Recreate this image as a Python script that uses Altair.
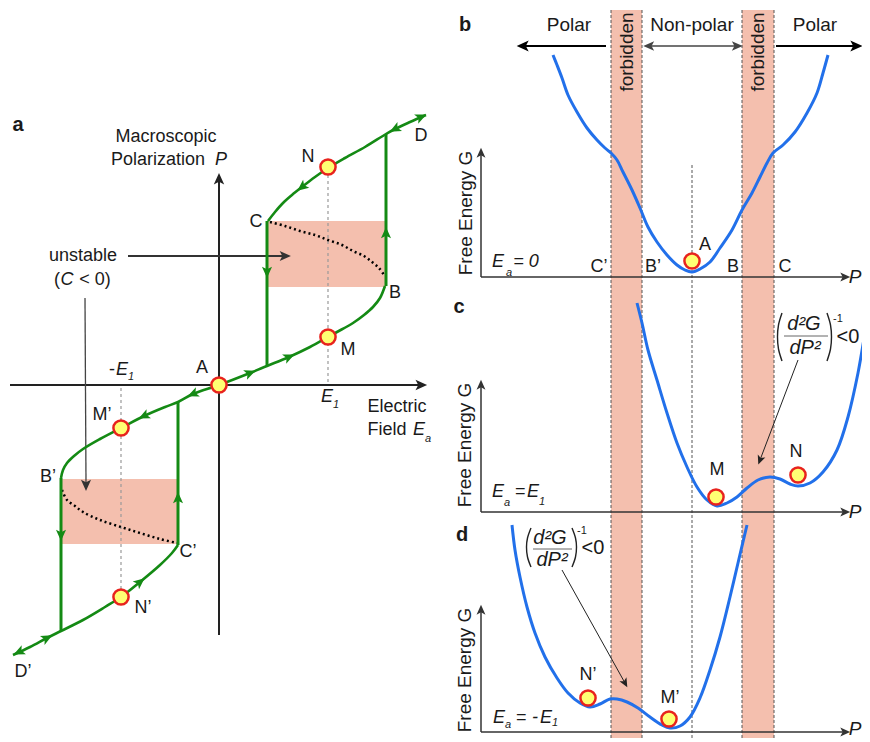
import altair as alt
import pandas as pd

# ---------------- values (picture pixel coordinates, y grows downward) ----------------
# Panel a: hysteresis loop P(Ea)
loop_lower = [(13, 655), (30, 647), (47, 638), (61, 631), (83, 620), (105, 607), (121, 597), (140, 582),
              (160, 565), (172, 553), (178, 545)]
loop_middle = [(61, 478), (63, 470), (67, 463), (74, 456), (83, 449), (100, 439), (121, 428), (144, 416),
               (165, 407), (178, 402), (193, 394), (219, 385), (250, 373), (267, 366), (289, 357), (310, 347),
               (328, 337), (337, 332), (353, 323), (364, 315), (373, 307), (380, 298), (385, 286)]
loop_upper = [(268, 221), (275, 212), (283, 203), (292, 195), (302, 187), (315, 177), (328, 168), (345, 158),
              (365, 147), (386, 134), (395, 129), (410, 122), (426, 115)]
loop_jumps = [(386, 286, 386, 134), (267, 221, 267, 366), (61, 478, 61, 631), (178, 545, 178, 402)]
unstable_upper = [(270, 222), (285, 226), (300, 231), (315, 235), (328, 240), (342, 245), (353, 251),
                  (364, 256), (372, 262), (379, 268), (384, 275)]
unstable_lower = [(62, 490), (67, 500), (75, 506), (83, 512), (100, 520), (121, 527), (140, 533), (160, 539),
                  (177, 543)]
unstable_boxes = [(268, 221, 386, 287), (61, 479, 178, 544)]
guide_lines_a = [(328, 175, 328, 383), (121, 388, 121, 590)]
axes_a = [(10, 385, 420, 385), (219, 635, 219, 180)]
axes_a_heads = [(421, 385, 90), (219, 179, 0)]
note_lines_a = [(128, 256, 284, 256)]
note_line_thin_a = [(85, 298, 86, 484)]
note_heads_a = [(285, 256, 90), (86, 485, 180)]
states_a = [(219, 385), (328, 167), (328, 337), (121, 428), (121, 597)]
flow_heads = [(302, 187, 232), (395, 129, 243), (421, 117, 66), (250, 373, 68), (289, 357, 66),
              (193, 394, 247), (144, 416, 244), (140, 582, 51), (47, 638, 63), (19, 652, 245),
              (267, 272, 180), (386, 233, 0), (61, 535, 180), (178, 498, 0)]

# Panels b, c, d: free-energy landscapes G(P)
forbidden_bands = [(611, 10, 642, 742), (742, 10, 774, 742)]
band_edges = [(611, 10, 611, 742), (642, 10, 642, 742), (742, 10, 742, 742), (774, 10, 774, 742),
              (692, 165, 692, 742)]
curve_b = [(553, 55), (557, 65), (562, 78), (568, 95), (577, 112), (587, 128), (597, 140), (605, 148),
           (611, 153), (617, 160), (623, 172), (632, 190), (640, 208), (648, 227), (657, 242), (667, 255),
           (677, 265), (685, 270), (692, 272), (700, 269), (710, 262), (720, 248), (732, 230), (742, 210),
           (752, 193), (760, 177), (767, 163), (773, 153), (783, 145), (795, 132), (807, 113), (817, 93),
           (823, 73), (828, 55)]
curve_c = [(637, 303), (642, 323), (648, 350), (657, 380), (667, 413), (677, 443), (687, 467), (697, 487),
           (707, 500), (717, 506), (727, 503), (737, 497), (747, 488), (758, 480), (770, 477), (780, 479),
           (790, 484), (798, 486), (810, 483), (823, 472), (837, 450), (848, 417), (858, 373), (865, 333),
           (870, 307)]
curve_d = [(512, 525), (515, 550), (520, 577), (527, 607), (535, 633), (545, 657), (557, 678), (568, 693),
           (580, 703), (590, 707), (600, 704), (610, 699), (617, 699), (627, 702), (638, 708), (650, 717),
           (662, 725), (670, 728), (680, 726), (690, 717), (700, 698), (710, 670), (720, 637), (730, 597),
           (738, 563), (747, 525)]
states_right = [(692, 261), (716, 497), (798, 475), (588, 698), (669, 719)]
axes_right = [(481, 277, 846, 277), (481, 277, 481, 152), (481, 512, 846, 512), (481, 512, 481, 385),
              (481, 732, 846, 732), (481, 732, 481, 610)]
axes_right_heads = [(845, 277, 90), (481, 153, 0), (845, 512, 90), (481, 385, 0), (845, 732, 90), (481, 610, 0)]
phase_arrows = [(606, 46, 524, 46), (776, 46, 856, 46)]
phase_heads = [(523, 46, 270), (856, 46, 90)]
nonpolar_arrow = [(648, 46, 738, 46)]
nonpolar_heads = [(649, 46, 270), (737, 46, 90)]
fraction_bars = [(784, 336, 828, 336), (533, 549, 572, 549)]
parens = {"c_l": [(782, 313), (778.5, 325), (777.5, 337), (778.5, 349), (782, 361)],
          "c_r": [(827, 313), (830.5, 325), (831.5, 337), (830.5, 349), (827, 361)],
          "d_l": [(531, 528), (527.5, 538), (526.5, 547), (527.5, 557), (531, 567)],
          "d_r": [(572, 528), (575.5, 538), (576.5, 547), (575.5, 557), (572, 567)]}
pointer_lines = [(798, 360, 760, 460), (562, 570, 625, 683)]
pointer_heads = [(760, 460, 201), (625, 683, 151)]

# Texts
labels_18 = [("Macroscopic", 166, 137), ("Polarization", 158, 160), ("N", 308, 157), ("D", 421, 136),
             ("C", 256, 222), ("B", 395, 293), ("M", 348, 350), ("A", 202, 368), ("unstable", 83, 256),
             ("(", 57, 280), ("< 0)", 95, 280), ("-", 112, 370), ("Electric", 397, 407), ("Field", 387, 430),
             ("M’", 102, 415), ("B’", 48, 477), ("C’", 188, 552), ("N’", 143, 608), ("D’", 23, 672),
             ("C’", 599, 267), ("B’", 653, 267), ("B", 733, 267), ("C", 785, 267), ("A", 705, 245),
             ("M", 717, 470), ("N", 796, 452), ("N’", 588, 675), ("M’", 670, 698)]
labels_italic_18 = [("P", 221, 160), ("C", 67, 280), ("E", 122, 370), ("E", 327, 397), ("E", 419, 430),
                    ("E", 498, 262), ("= 0", 526, 262), ("E", 498, 492), ("=", 520, 492), ("E", 533, 492),
                    ("E", 499, 718), ("=", 521, 718), ("-", 535, 718), ("E", 546, 718)]
labels_sub = [("1", 131, 377), ("1", 336, 405), ("a", 428, 439), ("a", 509, 273), ("a", 507, 503),
              ("1", 542, 502), ("a", 508, 725), ("1", 555, 723)]
panel_letters = [("a", 18, 125), ("b", 465, 25), ("c", 459, 307), ("d", 462, 535)]
phase_labels = [("Polar", 569, 25), ("Non-polar", 692, 25), ("Polar", 815, 25)]
vertical_labels = [("forbidden", 627, 52), ("forbidden", 758, 52), ("Free Energy G", 466, 213),
                   ("Free Energy G", 465, 445), ("Free Energy G", 465, 670)]
axis_p_labels = [("P", 855, 277), ("P", 855, 512), ("P", 855, 729)]
fraction_text = [("d²G", 804, 324), ("dP²", 805, 348), ("d²G", 550, 538), ("dP²", 552, 560)]
fraction_power = [("-1", 838, 319), ("-1", 582, 531)]
fraction_less = [("<0", 848, 337), ("<0", 593, 548)]

# ---------------- chart ----------------
GREEN = "#148a14"
BLUE = "#2270ea"
PINK = "#f4bfae"
DARK = "#222222"
FONT = "Liberation Sans"
ARROW = "M0,-1L0.85,0.9L0,0.45L-0.85,0.9Z"

# the drawing area covers page pixels 8..862 horizontally and 8..738 vertically
XS = alt.Scale(domain=[8, 862], nice=False, zero=False)
YS = alt.Scale(domain=[8, 738], nice=False, zero=False, reverse=True)


def X():
    return alt.X("x:Q", scale=XS, axis=None)


def Y():
    return alt.Y("y:Q", scale=YS, axis=None)


def paths(named, interp="catmull-rom", **mark):
    rows = [{"seg": k, "ord": i, "x": p[0], "y": p[1]} for k, pts in named.items() for i, p in enumerate(pts)]
    return alt.Chart(pd.DataFrame(rows)).mark_line(interpolate=interp, **mark).encode(
        x=X(), y=Y(), detail="seg:N", order="ord:Q")


def segs(lst, **mark):
    df = pd.DataFrame(lst, columns=["x", "y", "x2", "y2"])
    return alt.Chart(df).mark_rule(**mark).encode(x=X(), y=Y(), x2="x2:Q", y2="y2:Q")


def rects(lst, **mark):
    df = pd.DataFrame(lst, columns=["x", "y", "x2", "y2"])
    return alt.Chart(df).mark_rect(**mark).encode(x=X(), y=Y(), x2="x2:Q", y2="y2:Q")


def heads(lst, color, size):
    df = pd.DataFrame(lst, columns=["x", "y", "ang"])
    return alt.Chart(df).mark_point(shape=ARROW, filled=True, color=color, size=size, opacity=1,
                                    strokeWidth=0).encode(x=X(), y=Y(), angle=alt.Angle("ang:Q", scale=None))


def balls(lst):
    df = pd.DataFrame(lst, columns=["x", "y"])
    return alt.Chart(df).mark_point(shape="circle", filled=True, fill="#ffff73", stroke="#e8231d",
                                    strokeWidth=2.5, size=230, opacity=1).encode(x=X(), y=Y())


def texts(lst, size, style="normal", weight="normal", angle=0, color="#1a1a1a"):
    df = pd.DataFrame(lst, columns=["t", "x", "y"])
    return alt.Chart(df).mark_text(font=FONT, fontSize=size, fontStyle=style, fontWeight=weight, angle=angle,
                                   align="center", baseline="middle", color=color).encode(
        x=X(), y=Y(), text="t:N")


layers = [
    rects(forbidden_bands, color=PINK, opacity=1),
    rects(unstable_boxes, color=PINK, opacity=1),
    segs(band_edges, color="#555555", strokeWidth=1, strokeDash=[3, 2]),
    segs(guide_lines_a, color="#999999", strokeWidth=1.2, strokeDash=[3, 3]),
    segs(axes_a, color=DARK, strokeWidth=2),
    heads(axes_a_heads, DARK, 150),
    segs(axes_right, color="#333333", strokeWidth=1.5),
    heads(axes_right_heads, "#333333", 110),
    segs(note_lines_a, color="#333333", strokeWidth=2),
    segs(note_line_thin_a, color="#444444", strokeWidth=1.3),
    heads(note_heads_a, "#333333", 140),
    segs(phase_arrows, color="#000000", strokeWidth=2),
    heads(phase_heads, "#000000", 160),
    segs(nonpolar_arrow, color="#444444", strokeWidth=1.5),
    heads(nonpolar_heads, "#444444", 130),
    segs(pointer_lines, color="#222222", strokeWidth=1),
    heads(pointer_heads, "#222222", 90),
    segs(fraction_bars, color="#666666", strokeWidth=1),
    paths(parens, color="#222222", strokeWidth=1.4),
    paths({"u": unstable_upper, "l": unstable_lower}, color="#000000", strokeWidth=2.5, strokeDash=[2, 3]),
    paths({"lo": loop_lower, "mi": loop_middle, "up": loop_upper}, color=GREEN, strokeWidth=2.6),
    segs(loop_jumps, color=GREEN, strokeWidth=3),
    heads(flow_heads, GREEN, 140),
    paths({"b": curve_b, "c": curve_c, "d": curve_d}, color=BLUE, strokeWidth=3),
    balls(states_a),
    balls(states_right),
    texts(labels_18, 18),
    texts(labels_italic_18, 18, style="italic"),
    texts(labels_sub, 11, style="italic"),
    texts(panel_letters, 20, weight="bold"),
    texts(phase_labels, 19),
    texts(vertical_labels, 19, angle=270),
    texts(axis_p_labels, 19, style="italic"),
    texts(fraction_text, 20, style="italic"),
    texts(fraction_power, 11),
    texts(fraction_less, 20),
]

chart = alt.layer(*layers).properties(
    width=854, height=730, padding=0, autosize=alt.AutoSizeParams(type="none")
).configure_view(strokeWidth=0)

chart.save("out.html", embed_options={"renderer": "svg", "actions": False})
